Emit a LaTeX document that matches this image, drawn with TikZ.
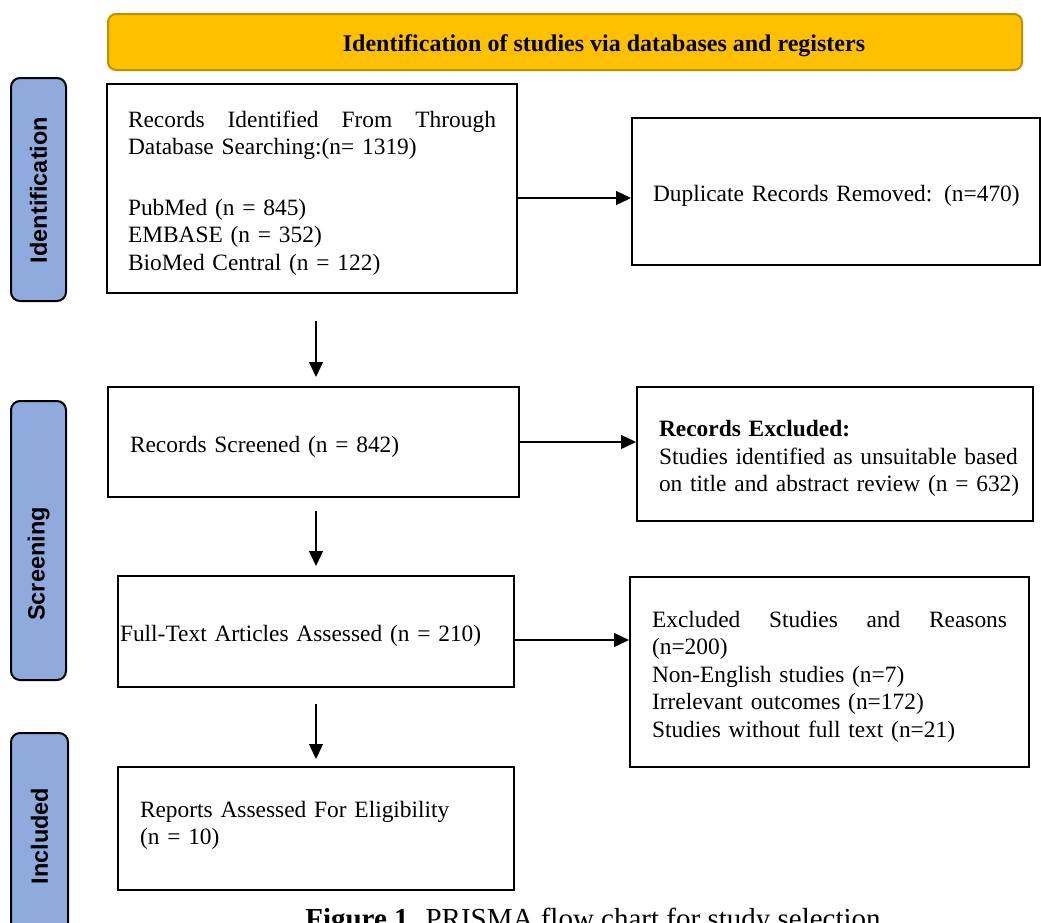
\documentclass[tikz,border=0pt]{standalone}
\usepackage{fontspec}
\setmainfont{Liberation Serif}
\newfontfamily\sidefont{Liberation Sans}
\usepackage{tikz}
\usetikzlibrary{arrows.meta}
\usepackage{xcolor}
\definecolor{headfill}{HTML}{FFC000}
\definecolor{headline}{HTML}{BF9000}
\definecolor{sidefill}{HTML}{8FAADC}
\newcommand{\oneline}[1]{\mbox{#1}}

\begin{document}
\begin{tikzpicture}[x=1pt, y=-1pt,
	box/.style={draw=black, line width=2pt, inner ysep=0pt, align=left, font=\fontsize{23.4}{27.5}\selectfont,
		execute at begin node={\rule{0pt}{25pt}}},
	side/.style={draw=black, fill=sidefill, line width=2pt, rounded corners=9pt, rotate=90, minimum height=55pt},
	sidetxt/.style={rotate=90, font=\sidefont\bfseries\fontsize{23.5}{26}\selectfont},
	arr/.style={line width=1.3pt, -{Triangle[length=15pt,width=14pt]}}]
	\useasboundingbox (0,0) rectangle (1041,922);
	% banner
	\node[draw=headline, fill=headfill, line width=2pt, rounded corners=8pt, minimum width=914pt, minimum height=56pt] (head) at (565,42) {};
	\node[font=\bfseries\fontsize{24}{27}\selectfont] (headtxt) at (604,45.5) {Identification of studies via databases and registers};
	% stages
	\node[side, minimum width=223pt] (idn) at (38.5,189.5) {};
	\node[sidetxt] (idntxt) at (38.5,190) {Identification};
	\node[side, minimum width=279pt] (scr) at (38.5,540.5) {};
	\node[sidetxt] (scrtxt) at (38.5,564) {Screening};
	\node[side, minimum width=207pt, minimum height=57pt] (inc) at (39.5,836.5) {};
	\node[sidetxt] (inctxt) at (39.5,836) {Included};
	% boxes
	\node[box, minimum height=209pt, inner xsep=21pt, text width=368pt] (records) at (312,188.5)
		{Records\hfill Identified\hfill From\hfill Through\\Database Searching:(n= 1319)\\[33pt]PubMed (n = 845)\\EMBASE (n = 352)\\BioMed Central (n = 122)};
	\node[box, minimum height=147pt, inner xsep=21pt, text width=366pt] (dupl) at (836,191.5)
		{\oneline{Duplicate Records Removed: (n=470)}};
	\node[box, minimum height=110pt, inner xsep=22pt, text width=367pt] (screened) at (313.5,442)
		{Records Screened (n = 842)};
	\node[box, minimum height=134pt, inner xsep=22pt, text width=352pt] (excl) at (835,454)
		{\textbf{Records Excluded:}\\\oneline{Studies identified as unsuitable based}\\\oneline{on title and abstract review (n = 632)}};
	\node[box, minimum height=111pt, inner xsep=2pt, text width=392pt] (fulltext) at (316,631.5)
		{Full-Text Articles Assessed (n = 210)};
	\node[box, minimum height=190pt, inner xsep=22pt, text width=355pt] (reasons) at (829.5,672)
		{Excluded\hfill Studies\hfill and\hfill Reasons\\(n=200)\\Non-English studies (n=7)\\Irrelevant outcomes (n=172)\\Studies without full text (n=21)};
	\node[box, minimum height=123pt, inner xsep=22pt, text width=352pt, execute at begin node={}] (reports) at (316,828.5)
		{Reports Assessed For Eligibility\\(n = 10)\rule[-20pt]{0pt}{20pt}};
	% arrows
	\draw[arr] ([yshift=-9.5pt]records.east) -- ([yshift=-9.5pt]records.east -| dupl.west);
	\draw[arr] (screened.east) -- (screened.east -| excl.west);
	\draw[arr] ([yshift=-8.5pt]fulltext.east) -- ([yshift=-8.5pt]fulltext.east -| reasons.west);
	\draw[arr, shorten <=27pt, shorten >=9pt] (records.south -| fulltext.south) -- (screened.north -| fulltext.south);
	\draw[arr, shorten <=13pt, shorten >=9pt] (screened.south -| fulltext.south) -- (fulltext.north);
	\draw[arr, shorten <=16pt, shorten >=7pt] (fulltext.south) -- (reports.north);
	% caption
	\node[anchor=base, font=\fontsize{29}{33}\selectfont] (caption) at (593,928) {\textbf{Figure 1.} PRISMA flow chart for study selection};
\end{tikzpicture}
\end{document}
